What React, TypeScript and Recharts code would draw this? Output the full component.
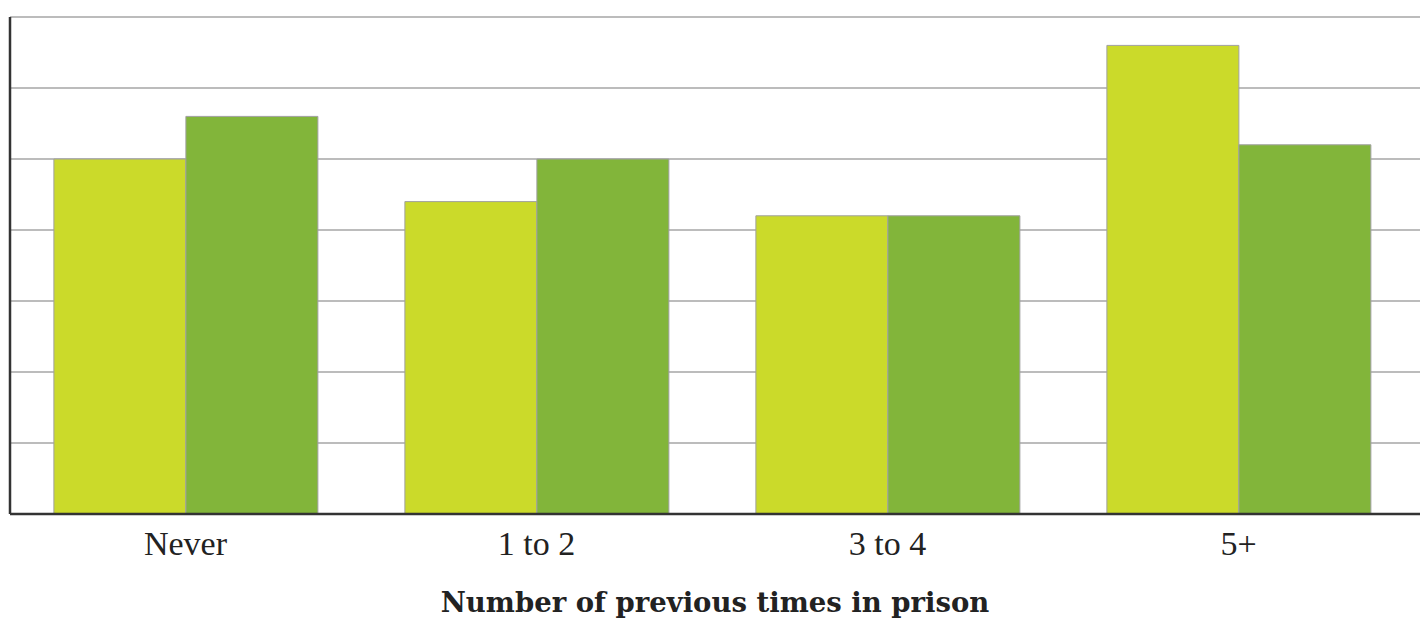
import React from "react"
import { BarChart, Bar, XAxis, YAxis, CartesianGrid, Label } from "recharts"

const categories = ["Never", "1 to 2", "3 to 4", "5+"]
const seriesA = [50, 44, 42, 66]
const seriesB = [56, 50, 42, 52]
const yTicks = [0, 10, 20, 30, 40, 50, 60, 70]

const data = categories.map((name, i) => ({ name, a: seriesA[i], b: seriesB[i] }))

// y ticks only feed the grid, the reference shows no numbers
const NoTick = () => <g />

export default function App() {
  return (
    <div style={{ position: "absolute", left: 0, top: 0 }}>
      <BarChart
        width={1423}
        height={621}
        data={data}
        margin={{ top: 17, right: 3, left: 8, bottom: 7 }}
        barGap={0}
        barCategoryGap="12.5%"
      >
        <CartesianGrid vertical={false} stroke="#bcbcbc" strokeWidth={2} />
        <XAxis
          dataKey="name"
          height={100}
          padding={{ left: 0, right: 6 }}
          tickLine={false}
          tickSize={0}
          tickMargin={17}
          axisLine={{ stroke: "#333", strokeWidth: 2.5 }}
          tick={{ fill: "#222", fontSize: 34, fontFamily: "Liberation Serif" }}
        >
          <Label
            value="Number of previous times in prison"
            position="insideBottom"
            offset={2}
            style={{ fill: "#222", fontSize: 27.5, fontWeight: "bold", fontFamily: "DejaVu Serif" }}
          />
        </XAxis>
        <YAxis
          width={2}
          domain={[0, 70]}
          ticks={yTicks}
          tick={NoTick}
          tickLine={false}
          axisLine={{ stroke: "#333", strokeWidth: 2.5 }}
        />
        <Bar dataKey="a" fill="#CBDA2A" stroke="#a0a0a0" strokeWidth={1} isAnimationActive={false} />
        <Bar dataKey="b" fill="#82B53A" stroke="#a0a0a0" strokeWidth={1} isAnimationActive={false} />
      </BarChart>
    </div>
  )
}
